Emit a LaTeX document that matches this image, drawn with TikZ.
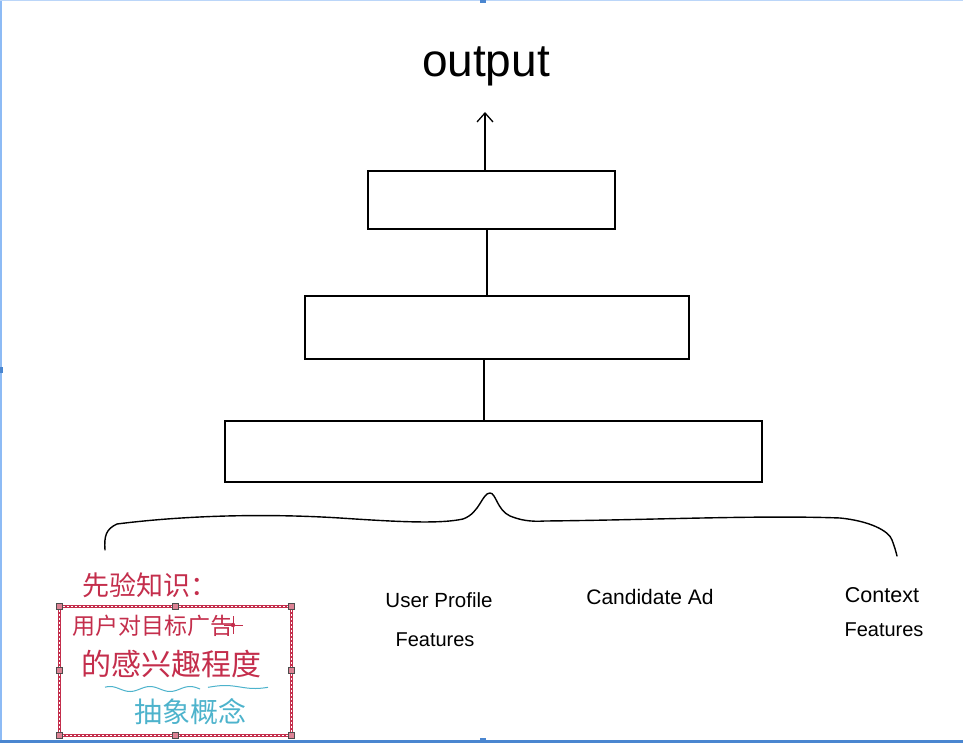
\documentclass[tikz,border=0pt]{standalone}
\usepackage{fontspec}
\setmainfont{Liberation Sans}
\newfontfamily\cjk{Noto Sans CJK SC}
\usetikzlibrary{arrows.meta}
\definecolor{inkred}{HTML}{C42E4C}
\definecolor{inkcyan}{HTML}{4DB3CC}
\definecolor{uiblue}{HTML}{4A86D0}
\definecolor{uilight}{HTML}{8DBBF5}
\begin{document}
\begin{tikzpicture}[x=1pt,y=-1pt,
  layer/.style={draw=black,line width=1.8pt,fill=white,inner sep=0pt},
  hand/.style={font=\fontsize{20}{20}\selectfont,inner sep=1pt},
  redtxt/.style={text=inkred,font=\cjk\fontsize{23}{23}\selectfont,inner sep=0pt},
  cyantxt/.style={text=inkcyan,font=\cjk\fontsize{28}{28}\selectfont,inner sep=0pt},
  handle/.style={draw=black!70,fill=inkred!60,line width=0.5pt,minimum size=6pt,inner sep=0pt},
  link/.style={line width=1.3pt}]
\useasboundingbox (0,0) rectangle (963,743);
\fill[white] (0,0) rectangle (963,743);
% UI frame
\draw[uilight,line width=1.5pt] (0.75,0) -- (0.75,740);
\draw[uiblue,line width=3pt] (0,741.5) -- (963,741.5);
\draw[uilight!60,line width=1pt] (0,0.5) -- (963,0.5);
\fill[uiblue] (480,738) rectangle (486,743);
\fill[uiblue] (0,367) rectangle (3,373);
\fill[uiblue] (480,0) rectangle (486,3);
% layers
\node[layer,minimum width=247pt,minimum height=58pt] (top) at (491.5,200) {};
\node[layer,minimum width=384pt,minimum height=63pt] (mid) at (497,327.5) {};
\node[layer,minimum width=537pt,minimum height=61pt] (bot) at (493.5,451.5) {};
\node[font=\fontsize{46}{46}\selectfont,inner sep=0pt] (out) at (486,66) {output};
\coordinate (tip) at (485,112);
\draw[link,-{Straight Barb[length=9pt,width=16pt,line width=1.3pt]}] ([xshift=-6.5pt]top.north) -- (tip);
\draw[link] ([xshift=-10pt]mid.north) -- ([xshift=-4.5pt]top.south);
\draw[link] ([xshift=-9.5pt]bot.north) -- ([xshift=-13pt]mid.south);
% brace
\draw[line width=1.4pt,line cap=round,line join=round]
  (105,550) .. controls (104,536) and (106,529) .. (117,524)
  .. controls (180,516) and (260,513) .. (340,518)
  .. controls (400,522) and (440,524) .. (463,519)
  .. controls (480,513) and (482,493) .. (490,493)
  .. controls (496,493) and (497,510) .. (510,516)
  .. controls (520,520) and (530,522) .. (545,521)
  .. controls (650,520) and (760,515) .. (840,518)
  .. controls (870,521) and (889,531) .. (892,540)
  .. controls (895,548) and (896,552) .. (897,556);
% feature labels
\node[hand,font=\fontsize{20.5}{20}\selectfont] (up1) at (439,600) {User Profile};
\node[hand] (up2) at (435,640) {Features};
\node[hand,font=\fontsize{21}{21}\selectfont] (cad) at (650,597) {Candidate Ad};
\node[hand,font=\fontsize{21.5}{21}\selectfont] (cx1) at (882,595) {Context};
\node[hand] (cx2) at (884,630) {Features};
% red annotation
\node[redtxt,font=\cjk\fontsize{27}{27}\selectfont] (prior) at (150,585) {先验知识：};
\draw[inkred,line width=3pt] (59,606) rectangle (291,735);
\draw[white,line width=0.8pt,dash pattern=on 2pt off 2pt] (59,606) rectangle (291,735);
\foreach \p/\n in {{(59,606)}/h1,{(175,606)}/h2,{(291,606)}/h3,{(59,670)}/h4,{(291,670)}/h5,{(59,735)}/h6,{(175,735)}/h7,{(291,735)}/h8}
  \node[handle] (\n) at \p {};
\node[redtxt] (l1) at (153,626) {用户对目标广告};
\draw[inkred,line width=1pt] (224,625) -- (243,625);
\draw[inkred,line width=1pt] (233,616) -- (233,634);
\fill[inkred] (233,625) circle (2.2pt);
\node[redtxt,font=\cjk\fontsize{30}{30}\selectfont] (l2) at (171,664) {的感兴趣程度};
\draw[inkcyan,line width=1pt] plot[domain=105:200,samples=50] (\x,{689+2.5*sin(\x*9)});
\draw[inkcyan,line width=1pt] plot[domain=208:268,samples=30] (\x,{687+1.5*sin(\x*6)});
\node[cyantxt] (abs) at (190,712) {抽象概念};
\end{tikzpicture}
\end{document}
